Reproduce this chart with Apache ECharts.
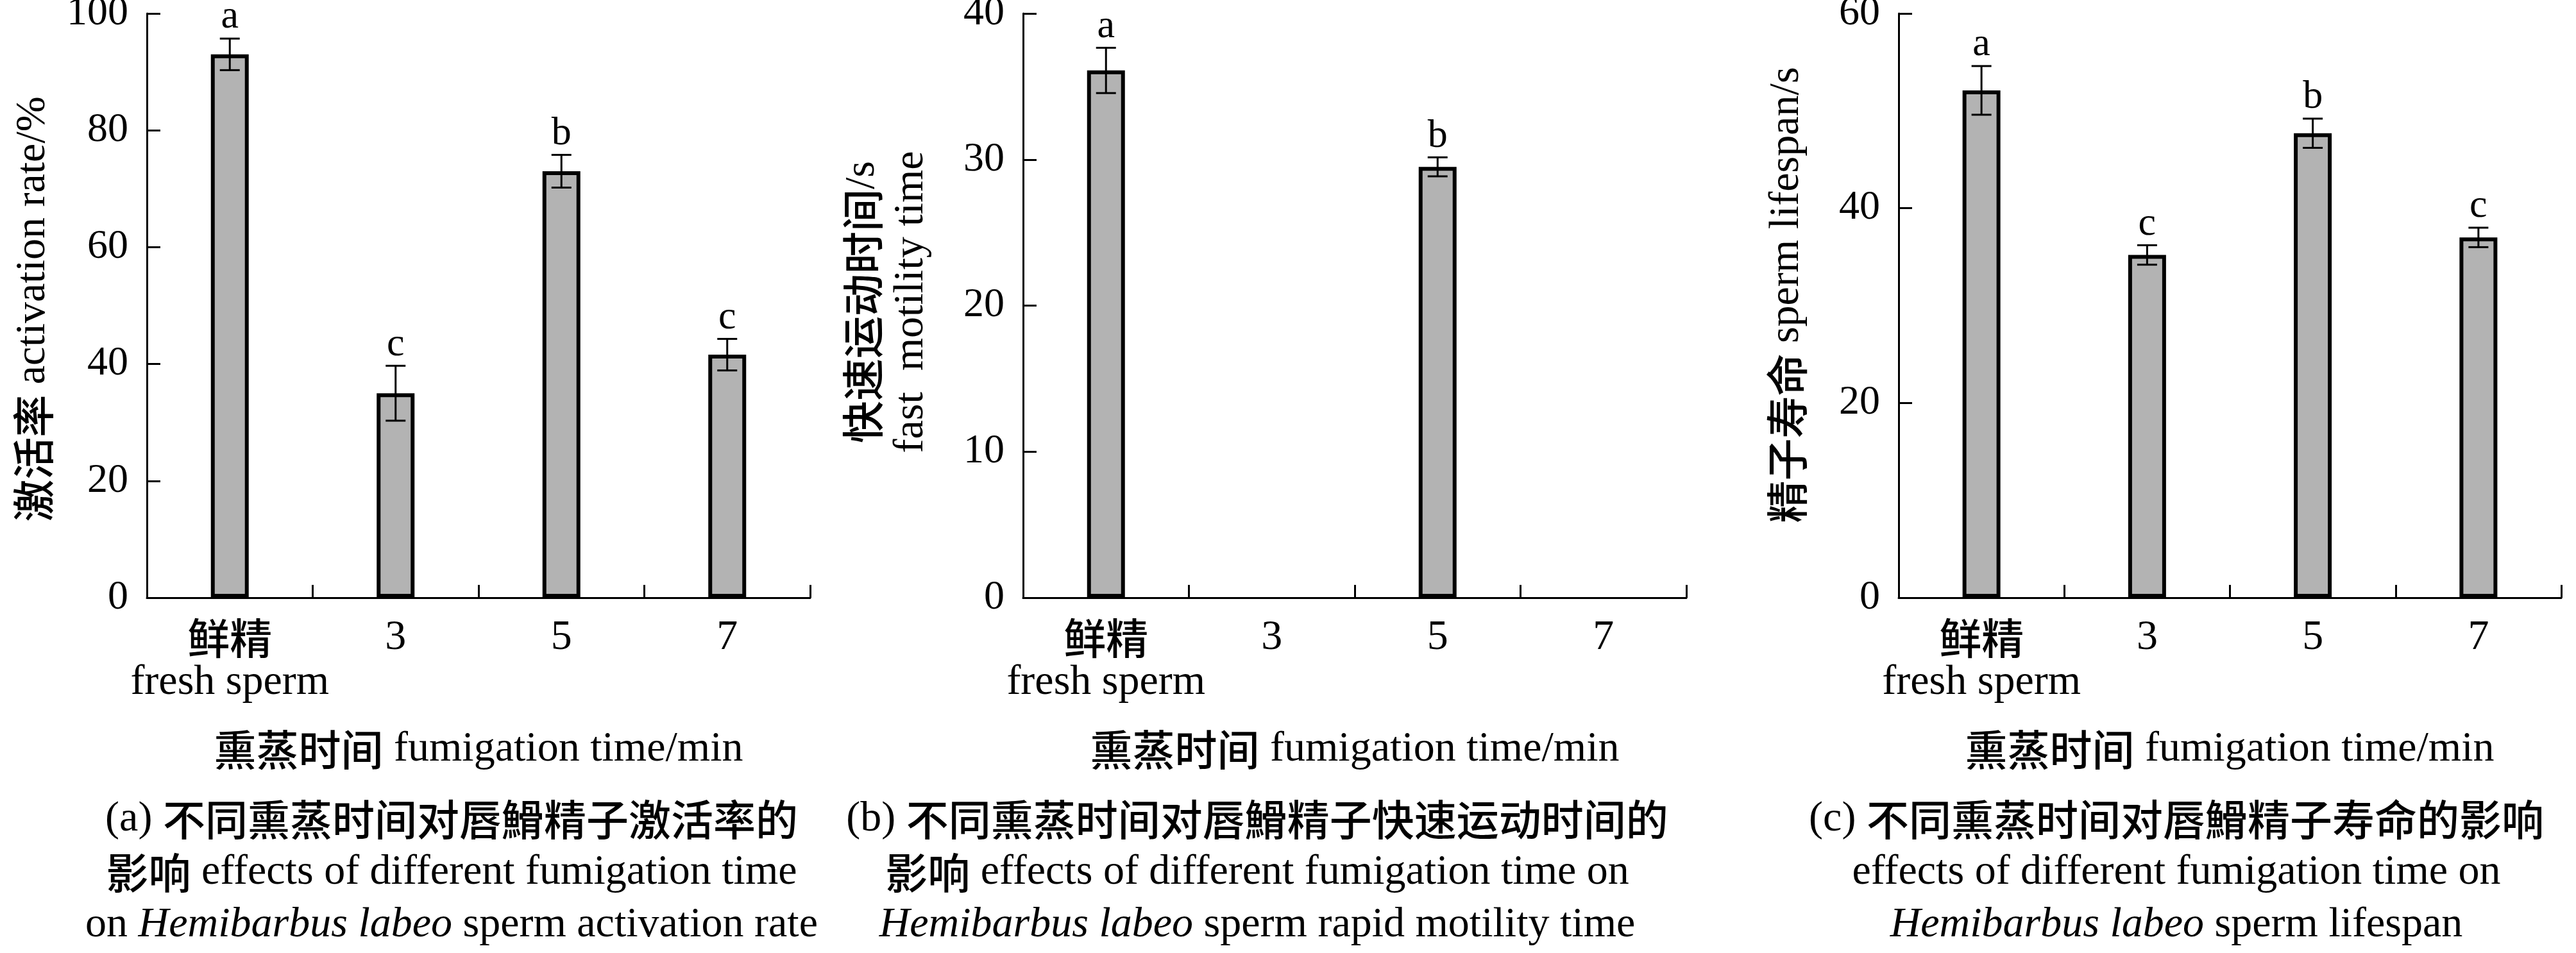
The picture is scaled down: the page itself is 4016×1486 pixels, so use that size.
<!DOCTYPE html>
<html>
<head>
<meta charset="utf-8">
<script src="https://cdn.jsdelivr.net/npm/echarts@6/dist/echarts.min.js"></script>
<style>
html,body{margin:0;padding:0;background:#fff;}
#chart{width:4016px;height:1486px;}
</style>
</head>
<body>
<div id="chart"></div>
<script>
// ---------- data ----------
const categories = ['鲜精', '3', '5', '7'];

const activationMean = [93.0, 35.0, 73.0, 41.6];
const activationSD   = [2.7, 4.7, 2.8, 2.7];
const activationSig  = ['a', 'c', 'b', 'c'];

const fastMean = [36.1, null, 29.5, null];
const fastSD   = [1.55, null, 0.65, null];
const fastSig  = ['a', '', 'b', ''];

const lifespanMean = [52.1, 35.2, 47.7, 37.0];
const lifespanSD   = [2.5, 1.0, 1.5, 1.0];
const lifespanSig  = ['a', 'c', 'b', 'c'];

const yMaxA = 100, yStepA = 20;
const yMaxB = 40,  yStepB = 10;
const yMaxC = 60,  yStepC = 20;

// ---------- styles ----------
const SERIF = '"Liberation Serif", "Times New Roman", serif';
const CJK = '"Noto Sans CJK SC", sans-serif';
const FS = 66;
const richBase = {
  c: {fontFamily: CJK, fontSize: FS, fontWeight: 500, fill: '#000', color: '#000', lineHeight: 70},
  n: {fontFamily: SERIF, fontSize: FS, fill: '#000', color: '#000', lineHeight: 70},
  i: {fontFamily: SERIF, fontSize: FS, fontStyle: 'italic', fill: '#000', color: '#000', lineHeight: 70}
};

const chart = echarts.init(document.getElementById('chart'), null, {renderer: 'canvas'});

const grids = [
  {left: 229, top: 21, width: 1034, height: 911},
  {left: 1595, top: 21, width: 1034, height: 911},
  {left: 2960, top: 21, width: 1033, height: 911}
].map(g => Object.assign({outerBoundsMode: 'none', containLabel: false}, g));

function xAxisOf(gi) {
  return {
    type: 'category', gridIndex: gi, data: categories, boundaryGap: true,
    axisLine: {show: true, lineStyle: {color: '#000', width: 3}},
    axisTick: {show: true, inside: true, length: 20, interval: 0, lineStyle: {color: '#000', width: 3}},
    axisLabel: {
      interval: 0, margin: 28, color: '#000',
      formatter: v => v === '鲜精' ? '{c|鲜精}\n{n|fresh sperm}' : '{n|' + v + '}',
      rich: {
        c: {fontFamily: CJK, fontSize: FS, fontWeight: 500, color: '#000', lineHeight: 70},
        n: {fontFamily: SERIF, fontSize: FS, color: '#000', lineHeight: 70}
      }
    },
    splitLine: {show: false}
  };
}
function yAxisOf(gi, max, step) {
  return {
    type: 'value', gridIndex: gi, min: 0, max: max, interval: step,
    axisLine: {show: true, lineStyle: {color: '#000', width: 3}},
    axisTick: {show: true, inside: true, length: 21, lineStyle: {color: '#000', width: 3}},
    axisLabel: {margin: 29, color: '#000', fontFamily: SERIF, fontSize: 64},
    splitLine: {show: false}
  };
}

function barSeries(gi, means) {
  return {
    type: 'bar', xAxisIndex: gi, yAxisIndex: gi,
    data: means.map(v => v == null ? '-' : v),
    barWidth: 59,
    itemStyle: {color: '#b3b3b3', borderColor: '#000', borderWidth: 6},
    silent: true, z: 2
  };
}

function errSeries(gi, means, sds, sigs) {
  const items = [], letters = [];
  means.forEach((m, i) => {
    if (m != null) { items.push([i, m, sds[i]]); letters.push(sigs[i]); }
  });
  return {
    type: 'custom', xAxisIndex: gi, yAxisIndex: gi, z: 5, silent: true,
    encode: {x: 0, y: 1},
    data: items,
    renderItem: function (params, api) {
      const idx = api.value(0), m = api.value(1), s = api.value(2);
      const top = api.coord([idx, m + s]);
      const bot = api.coord([idx, m - s]);
      const hw = 15.5;
      const st = {stroke: '#000', lineWidth: 3};
      return {
        type: 'group',
        children: [
          {type: 'line', shape: {x1: top[0], y1: top[1], x2: bot[0], y2: bot[1]}, style: st},
          {type: 'line', shape: {x1: top[0] - hw, y1: top[1], x2: top[0] + hw, y2: top[1]}, style: st},
          {type: 'line', shape: {x1: bot[0] - hw, y1: bot[1], x2: bot[0] + hw, y2: bot[1]}, style: st},
          {type: 'text', x: top[0], y: top[1] - 2,
            style: {text: letters[params.dataIndex], fontFamily: SERIF, fontSize: 62,
              fill: '#000', align: 'center', verticalAlign: 'bottom'}}
        ]
      };
    }
  };
}

function txt(x, y, text, rot) {
  return {
    type: 'text', x: x, y: y, rotation: rot || 0, silent: true,
    style: {text: text, rich: richBase, align: 'center', verticalAlign: 'middle',
      fill: '#000', fontFamily: SERIF, fontSize: FS}
  };
}

const R = Math.PI / 2;
const graphics = [
  // y-axis names
  txt(52, 482, '{c|激活率}{n| activation rate/%}', R),
  txt(1345, 471, '{c|快速运动时间}{n|/s}', R),
  txt(1421, 471, '{n|fast  motility time}', R),
  txt(2786, 460, '{c|精子寿命}{n| sperm lifespan/s}', R),
  // x-axis names
  txt(746, 1169, '{c|熏蒸时间}{n| fumigation time/min}'),
  txt(2112, 1169, '{c|熏蒸时间}{n| fumigation time/min}'),
  txt(3476, 1169, '{c|熏蒸时间}{n| fumigation time/min}'),
  // panel captions
  txt(704, 1278, '{n|(a) }{c|不同熏蒸时间对唇䱻精子激活率的}'),
  txt(704, 1361, '{c|影响}{n| effects of different fumigation time}'),
  txt(704, 1443, '{n|on }{i|Hemibarbus labeo}{n| sperm activation rate}'),
  txt(1960, 1278, '{n|(b) }{c|不同熏蒸时间对唇䱻精子快速运动时间的}'),
  txt(1960, 1361, '{c|影响}{n| effects of different fumigation time on}'),
  txt(1960, 1443, '{i|Hemibarbus labeo}{n| sperm rapid motility time}'),
  txt(3393, 1278, '{n|(c) }{c|不同熏蒸时间对唇䱻精子寿命的影响}'),
  txt(3393, 1361, '{n|effects of different fumigation time on}'),
  txt(3393, 1443, '{i|Hemibarbus labeo}{n| sperm lifespan}')
];

chart.setOption({
  backgroundColor: '#fff',
  animation: false,
  grid: grids,
  xAxis: [xAxisOf(0), xAxisOf(1), xAxisOf(2)],
  yAxis: [yAxisOf(0, yMaxA, yStepA), yAxisOf(1, yMaxB, yStepB), yAxisOf(2, yMaxC, yStepC)],
  series: [
    barSeries(0, activationMean), errSeries(0, activationMean, activationSD, activationSig),
    barSeries(1, fastMean), errSeries(1, fastMean, fastSD, fastSig),
    barSeries(2, lifespanMean), errSeries(2, lifespanMean, lifespanSD, lifespanSig)
  ],
  graphic: graphics
});
</script>
</body>
</html>
